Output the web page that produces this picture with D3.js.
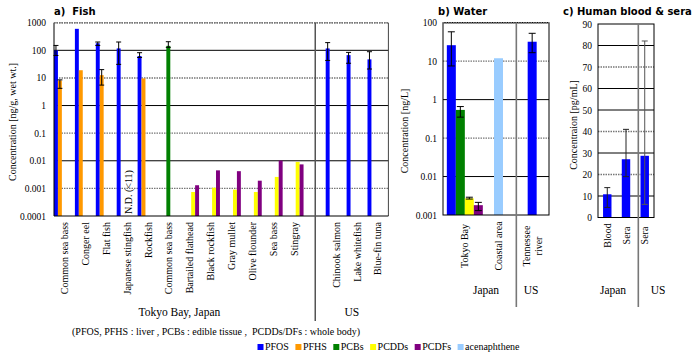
<!DOCTYPE html>
<html><head><meta charset="utf-8">
<script src="https://cdn.jsdelivr.net/npm/d3@7"></script>
<style>
body{margin:0;background:#fff}
svg{display:block}
svg text{font-family:"Liberation Serif","Tinos","Times New Roman","DejaVu Serif","Noto Serif",serif !important;fill:#000}
svg text.title{font-family:"DejaVu Sans",Verdana,sans-serif !important;font-weight:bold;font-size:10px;white-space:pre}
</style>
</head><body><svg id="c" width="700" height="356"></svg>
<script>
// ---------------- DATA ----------------
const seriesNames = ["PFOS","PFHS","PCBs","PCDDs","PCDFs","acenaphthene"];
const seriesColors = ["#0000ff","#ff9900","#008000","#ffff00","#800080","#99ccff"];

// a) Fish (ng/g wet wt.)
const fishCategories = ["Common sea bass","Conger eel","Flat fish","Japanese stingfish","Rockfish","Common sea bass","Bartailed flathead","Black rockfish","Gray mullet","Olive flounder","Sea bass","Stingray","","Chinook salmon","Lake whitefish","Blue-fin tuna"];
const fishPFOS   = [100, 600, 180, 117, 62, null, null, null, null, null, null, null, null, 117, 67, 47];
const fishPFOSLo = [65, null, 150, 31, 55, null, null, null, null, null, null, null, null, 43, 34, 21];
const fishPFOSHi = [150, null, 200, 200, 82, null, null, null, null, null, null, null, null, 190, 84, 89];
const fishPFHS   = [8, 19, 12.6, null, 9.6, null, null, null, null, null, null, null, null, null, null, null];
const fishPFHSLo = [4.2, null, 5.5, null, null, null, null, null, null, null, null, null, null, null, null, null];
const fishPFHSHi = [8.5, null, 20, null, null, null, null, null, null, null, null, null, null, null, null, null];
const fishPCBs   = [null, null, null, null, null, 145, null, null, null, null, null, null, null, null, null, null];
const fishPCBsLo = [null, null, null, null, null, 128, null, null, null, null, null, null, null, null, null, null];
const fishPCBsHi = [null, null, null, null, null, 205, null, null, null, null, null, null, null, null, null, null];
const fishPCDDs  = [null, null, null, null, null, null, 0.00074, 0.00106, 0.0009, 0.00074, 0.0026, 0.0091, null, null, null, null];
const fishPCDFs  = [null, null, null, null, null, null, 0.0013, 0.0045, 0.0042, 0.0019, 0.0102, 0.0074, null, null, null, null];
const fishTicks  = [1000, 100, 10, 1, 0.1, 0.01, 0.001, 0.0001];
const fishNDIndex = 3, fishNDText = "N.D. (<11)";
const fishGroupLabels = ["Tokyo Bay, Japan", "US"];
const fishNote = "(PFOS, PFHS : liver , PCBs : edible tissue ,  PCDDs/DFs : whole body)";

// b) Water (ng/L)
const waterCategories = ["Tokyo Bay", "Coastal area", "Tennessee\nriver"];
const waterPFOS   = [26, null, 32];
const waterPFOSLo = [7.5, null, 16.6];
const waterPFOSHi = [58, null, 53];
const waterPCBs   = [0.54, null, null];
const waterPCBsLo = [0.35, null, null];
const waterPCBsHi = [0.66, null, null];
const waterPCDDs  = [0.0027, null, null];
const waterPCDDsLo= [0.0026, null, null];
const waterPCDDsHi= [0.0029, null, null];
const waterPCDFs  = [0.0018, null, null];
const waterPCDFsLo= [0.0013, null, null];
const waterPCDFsHi= [0.00213, null, null];
const waterAcen   = [null, 11.9, null];
const waterTicks  = [100, 10, 1, 0.1, 0.01, 0.001];
const waterGroupLabels = ["Japan", "US"];

// c) Human blood & sera (pg/mL)
const humanCategories = ["Blood", "Sera", "Sera"];
const humanPFOS   = [10.8, 27.1, 28.7];
const humanPFOSLo = [4.7, 19, 6.1];
const humanPFOSHi = [13.9, 41, 82.1];
const humanTicks  = [0, 10, 20, 30, 40, 50, 60, 70, 80, 90];
const humanGroupLabels = ["Japan", "US"];

// ---------------- DRAW ----------------
const svg = d3.select("#c");
const gridStyle = (sel, dotted) => {
  if (dotted) sel.attr("stroke", "#777").attr("stroke-width", 1.4).attr("stroke-dasharray", "1.5,1");
  else sel.attr("stroke", "#000").attr("stroke-width", 1);
};

function drawErr(g, x, lo, hi, cap, color) {
  g.append("line").attr("x1", x).attr("x2", x).attr("y1", lo).attr("y2", hi).attr("stroke", color).attr("stroke-width", 1);
  [lo, hi].forEach(y => g.append("line").attr("x1", x - cap/2).attr("x2", x + cap/2).attr("y1", y).attr("y2", y).attr("stroke", color).attr("stroke-width", 1));
}

function yAxis(g, scale, ticks, x, fmt) {
  const ax = d3.axisLeft(scale).tickValues(ticks).tickSize(0).tickPadding(0).tickFormat(fmt);
  const a = g.append("g").attr("transform", `translate(${x},0)`).call(ax);
  a.attr("font-family", null);
  a.select(".domain").remove();
  a.selectAll("text").style("font-size", "9.5px");
}

function ylabel(text, x, y) {
  svg.append("text").attr("transform", `translate(${x},${y}) rotate(-90)`).attr("text-anchor", "middle")
    .attr("dy", "0.35em").style("font-size", "10px").text(text);
}

// ===== Panel a =====
{
  const x0 = 54, x1 = 388.4, yT = 22.7, yB = 216;
  const g = svg.append("g");
  const y = d3.scaleLog().domain([1e-4, 1e3]).range([yB, yT]);
  const x = d3.scaleBand().domain(d3.range(fishCategories.length)).range([x0, x1]);
  const xi = d3.scaleBand().domain(seriesNames.slice(0, 5)).range([0, x.bandwidth() * 0.94]);

  fishTicks.forEach((t, i) => {
    if (t === 1e-4) return;
    const l = g.append("line").attr("x1", x0).attr("x2", x1).attr("y1", y(t)).attr("y2", y(t));
    gridStyle(l, i % 2 === 0);
  });
  g.append("line").attr("x1", x1).attr("x2", x1).attr("y1", yT).attr("y2", yB).attr("stroke", "#444");

  const sets = [
    [fishPFOS, fishPFOSLo, fishPFOSHi],
    [fishPFHS, fishPFHSLo, fishPFHSHi],
    [fishPCBs, fishPCBsLo, fishPCBsHi],
    [fishPCDDs, null, null],
    [fishPCDFs, null, null]
  ];
  sets.forEach(([vals], si) => {
    g.selectAll(null).data(vals.map((v, i) => ({v, i})).filter(d => d.v != null)).enter().append("rect")
      .attr("x", d => x(d.i) + xi(seriesNames[si]))
      .attr("width", xi.bandwidth())
      .attr("y", d => y(d.v)).attr("height", d => yB - y(d.v))
      .attr("fill", seriesColors[si]);
  });
  sets.forEach(([vals, lo, hi], si) => {
    if (!lo) return;
    vals.forEach((v, i) => {
      if (v == null || lo[i] == null) return;
      drawErr(g, x(i) + xi(seriesNames[si]) + xi.bandwidth()/2, y(lo[i]), y(hi[i]), 5, "#000");
    });
  });

  // N.D. label
  g.append("text").attr("transform", `translate(${x(fishNDIndex) + 11.6},${yB - 2}) rotate(-90)`)
    .attr("dy", "0.35em").style("font-size", "10px").text(fishNDText);

  // axes lines
  g.append("line").attr("x1", x0).attr("x2", x0).attr("y1", yT).attr("y2", yB).attr("stroke", "#000");
  g.append("line").attr("x1", x0).attr("x2", x1).attr("y1", yB).attr("y2", yB).attr("stroke", "#000");
  const top = g.append("line").attr("x1", x0).attr("x2", x1).attr("y1", yT).attr("y2", yT);
  gridStyle(top, true);

  // separator
  const sepX = x(12) + x.bandwidth()/2;
  g.append("line").attr("x1", sepX).attr("x2", sepX).attr("y1", yT).attr("y2", 321).attr("stroke", "#555").attr("stroke-width", 1.5);

  yAxis(g, y, fishTicks, x0 - 8, d3.format("~g"));

  const xa = g.append("g").attr("transform", `translate(0,${yB})`)
    .call(d3.axisBottom(x).tickSize(0).tickFormat(i => fishCategories[i]));
  xa.attr("font-family", null);
  xa.select(".domain").remove();
  xa.selectAll("text").attr("transform", "rotate(-90)").attr("x", -6).attr("y", 0).attr("dy", "0.35em")
    .attr("text-anchor", "end").style("font-size", "10px");

  svg.append("text").attr("x", (x(0) + x(11) + x.bandwidth())/2).attr("y", 316).attr("text-anchor", "middle").style("font-size", "11.5px").text(fishGroupLabels[0]);
  svg.append("text").attr("x", (sepX + x1)/2).attr("y", 316).attr("text-anchor", "middle").style("font-size", "11.5px").text(fishGroupLabels[1]);
  svg.append("text").attr("x", 72).attr("y", 335).style("font-size", "10px").style("white-space", "pre").text(fishNote);

  ylabel("Concentration [ng/g, wet wt.]", 12, 122);
  svg.append("text").attr("class", "title").attr("x", 54).attr("y", 15).text("a)  Fish");
}

// ===== Panel b =====
{
  const x0 = 443, x1 = 549, yT = 22.7, yB = 215;
  const g = svg.append("g");
  const y = d3.scaleLog().domain([1e-3, 100]).range([yB, yT]);
  const x = d3.scaleBand().domain(d3.range(waterCategories.length)).range([448, x1]);
  const bw = 9;

  waterTicks.forEach((t, i) => {
    if (t === 1e-3) return;
    const l = g.append("line").attr("x1", x0).attr("x2", x1).attr("y1", y(t)).attr("y2", y(t));
    gridStyle(l, i % 2 === 1);
  });

  const sets = [
    [0, waterPFOS, waterPFOSLo, waterPFOSHi],
    [2, waterPCBs, waterPCBsLo, waterPCBsHi],
    [3, waterPCDDs, waterPCDDsLo, waterPCDDsHi],
    [4, waterPCDFs, waterPCDFsLo, waterPCDFsHi],
    [5, waterAcen, null, null]
  ];
  waterCategories.forEach((c, ci) => {
    const present = sets.filter(s => s[1][ci] != null);
    const xi = d3.scaleBand().domain(present.map(s => s[0])).range([-present.length * bw / 2, present.length * bw / 2]);
    const cx = x(ci) + x.bandwidth()/2;
    present.forEach(s => {
      g.append("rect").attr("x", cx + xi(s[0])).attr("width", bw)
        .attr("y", y(s[1][ci])).attr("height", yB - y(s[1][ci])).attr("fill", seriesColors[s[0]]);
    });
    present.forEach(s => {
      if (s[2] && s[2][ci] != null) drawErr(g, cx + xi(s[0]) + bw/2, y(s[2][ci]), y(s[3][ci]), 7, "#000");
    });
  });

  g.append("rect").attr("x", x0).attr("y", yT).attr("width", x1 - x0).attr("height", yB - yT).attr("fill", "none").attr("stroke", "#000");
  const top = g.append("line").attr("x1", x0).attr("x2", x1).attr("y1", yT).attr("y2", yT);
  gridStyle(top, true);

  const sepX = x(2) + 1;
  g.append("line").attr("x1", sepX).attr("x2", sepX).attr("y1", yT).attr("y2", 307).attr("stroke", "#777").attr("stroke-width", 1.6);

  yAxis(g, y, waterTicks, x0 - 6, d3.format("~g"));

  waterCategories.forEach((c, ci) => {
    const lines = c.split("\n");
    const cx = x(ci) + x.bandwidth()/2;
    const t = svg.append("text").attr("transform", `translate(${cx},246) rotate(-90)`).attr("text-anchor", "middle").style("font-size", "10px");
    lines.forEach((ln, li) => t.append("tspan").attr("x", 0).attr("dy", li === 0 ? (0.35 - (lines.length - 1) * 0.6) + "em" : "1.2em").text(ln));
  });

  svg.append("text").attr("x", 486).attr("y", 294).attr("text-anchor", "middle").style("font-size", "11.5px").text(waterGroupLabels[0]);
  svg.append("text").attr("x", 531).attr("y", 294).attr("text-anchor", "middle").style("font-size", "11.5px").text(waterGroupLabels[1]);

  ylabel("Concentration [ng/L]", 404, 131);
  svg.append("text").attr("class", "title").attr("x", 438).attr("y", 15).text("b) Water");
}

// ===== Panel c =====
{
  const x0 = 598, x1 = 654, yT = 24, yB = 217.5;
  const g = svg.append("g");
  const y = d3.scaleLinear().domain([0, 90]).range([yB, yT]);
  const x = d3.scaleBand().domain(d3.range(humanCategories.length)).range([x0, x1]).paddingInner(0.55).paddingOuter(0.27);

  const dottedC = [false, false, true, false, true, false, false, true, false, false];
  humanTicks.forEach((t, i) => {
    if (t === 0 || t === 90) return;
    const l = g.append("line").attr("x1", x0).attr("x2", x1).attr("y1", y(t)).attr("y2", y(t));
    gridStyle(l, dottedC[i]);
  });

  humanPFOS.forEach((v, i) => {
    g.append("rect").attr("x", x(i)).attr("width", x.bandwidth()).attr("y", y(v)).attr("height", yB - y(v)).attr("fill", seriesColors[0]);
  });
  humanPFOS.forEach((v, i) => {
    drawErr(g, x(i) + x.bandwidth()/2, y(humanPFOSLo[i]), y(humanPFOSHi[i]), 6, i === 2 ? "#555" : "#222");
  });

  g.append("rect").attr("x", x0).attr("y", yT).attr("width", x1 - x0).attr("height", yB - yT).attr("fill", "none").attr("stroke", "#000");

  const sepX = x(2) - 2.2;
  g.append("line").attr("x1", sepX).attr("x2", sepX).attr("y1", yT).attr("y2", 307).attr("stroke", "#777").attr("stroke-width", 1.6);

  yAxis(g, y, humanTicks, x0 - 6, d3.format("d"));

  humanCategories.forEach((c, i) => {
    svg.append("text").attr("transform", `translate(${x(i) + x.bandwidth()/2},235.5) rotate(-90)`).attr("text-anchor", "middle")
      .attr("dy", "0.35em").style("font-size", "10px").text(c);
  });

  svg.append("text").attr("x", 613).attr("y", 294).attr("text-anchor", "middle").style("font-size", "11.5px").text(humanGroupLabels[0]);
  svg.append("text").attr("x", 658).attr("y", 294).attr("text-anchor", "middle").style("font-size", "11.5px").text(humanGroupLabels[1]);

  ylabel("Concentraion [pg/mL]", 573, 125);
  svg.append("text").attr("class", "title").attr("x", 563).attr("y", 15).text("c) Human blood & sera");
}

// ===== Legend =====
{
  const lg = svg.append("g");
  let cx = 257.5;
  seriesNames.forEach((n, i) => {
    lg.append("rect").attr("x", cx).attr("y", 344).attr("width", 6).attr("height", 6).attr("fill", seriesColors[i]);
    const t = lg.append("text").attr("x", cx + 7.5).attr("y", 350).style("font-size", "10px").text(n);
    cx += 7.5 + t.node().getComputedTextLength() + 6.5;
  });
}
</script>
</body></html>
